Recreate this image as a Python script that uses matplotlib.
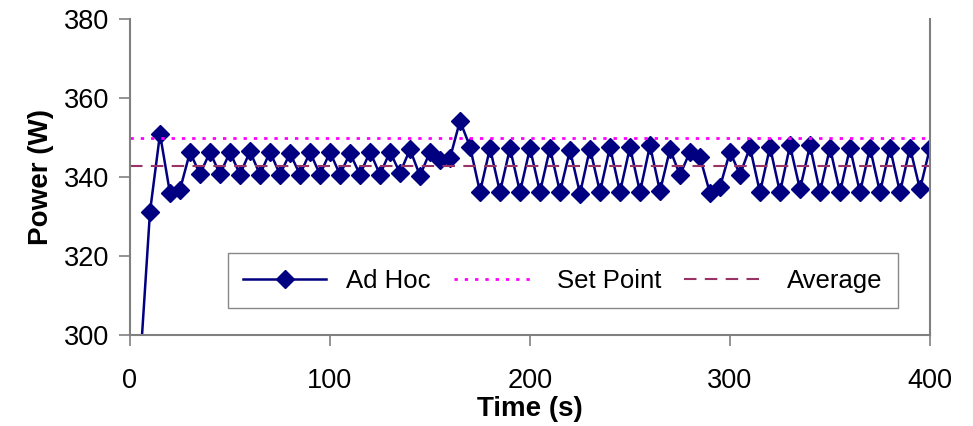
import numpy as np
import matplotlib.pyplot as plt

plt.rcParams['font.family'] = ['Liberation Sans', 'DejaVu Sans']

# time (s) and measured power (W) of the ad hoc controller
time_s = [5, 10, 15, 20, 25, 30, 35, 40, 45, 50, 55, 60, 65, 70, 75, 80, 85, 90, 95, 100,
          105, 110, 115, 120, 125, 130, 135, 140, 145, 150, 155, 160, 165, 170, 175, 180, 185, 190, 195, 200,
          205, 210, 215, 220, 225, 230, 235, 240, 245, 250, 255, 260, 265, 270, 275, 280, 285, 290, 295, 300,
          305, 310, 315, 320, 325, 330, 335, 340, 345, 350, 355, 360, 365, 370, 375, 380, 385, 390, 395, 400]
power_w = [292.0, 331.2, 350.9, 335.9, 336.8, 346.3, 340.7, 346.3, 340.7, 346.3,
           340.6, 346.5, 340.6, 346.4, 340.6, 346.0, 340.6, 346.3, 340.6, 346.3,
           340.6, 346.0, 340.6, 346.4, 340.6, 346.4, 341.0, 347.0, 340.3, 346.4,
           344.3, 344.8, 354.2, 347.7, 336.2, 347.3, 336.2, 347.3, 336.2, 347.3,
           336.2, 347.3, 336.2, 346.8, 335.8, 347.2, 336.2, 347.6, 336.2, 347.6,
           336.2, 348.0, 336.4, 347.0, 340.5, 346.4, 345.0, 335.9, 337.5, 346.4,
           340.6, 347.5, 336.1, 347.6, 336.1, 348.0, 336.9, 348.0, 336.2, 347.4,
           336.1, 347.4, 336.1, 347.4, 336.1, 347.4, 336.1, 347.4, 336.9, 347.4]
set_point = 350
average = 342.8

fig = plt.figure(figsize=(9.73, 4.26), dpi=100)
ax = fig.add_axes([0.1336, 0.2136, 0.8222, 0.7418])

ax.plot(time_s, power_w, color='#000080', lw=1.8, marker='D', ms=9, label='Ad Hoc')
ax.axhline(set_point, color='#ff00ff', lw=2, ls=(0, (1.2, 2.5)), label='Set Point')
ax.axhline(average, color='#993366', lw=1.5, ls=(0, (6, 4)), label='Average')

ax.set_xlim(0, 400)
ax.set_ylim(300, 380)
ax.set_xticks([0, 100, 200, 300, 400])
ax.set_yticks([300, 320, 340, 360, 380])
ax.tick_params(labelsize=19.5, direction='out', length=8, width=1.2, color='#808080')
ax.tick_params(axis='x', pad=16)
ax.tick_params(axis='y', pad=7)

for s in ['left', 'bottom', 'right']:
    ax.spines[s].set_color('#808080')
    ax.spines[s].set_linewidth(1.5)
ax.spines['top'].set_visible(False)

ax.set_xlabel('Time (s)', fontsize=20, fontweight='bold', labelpad=1)
ax.set_ylabel('Power (W)', fontsize=20, fontweight='bold', labelpad=7)

leg = ax.legend(loc='lower left', bbox_to_anchor=(0.1225, 0.085, 0.8375, 0.19), mode='expand',
                ncol=3, fontsize=18.5, frameon=True, fancybox=False, handlelength=3.2,
                borderaxespad=0, borderpad=0.6, framealpha=1)
leg.get_frame().set_edgecolor('#888888')
leg.get_frame().set_linewidth(1)

fig.savefig('out.png', dpi=100)
